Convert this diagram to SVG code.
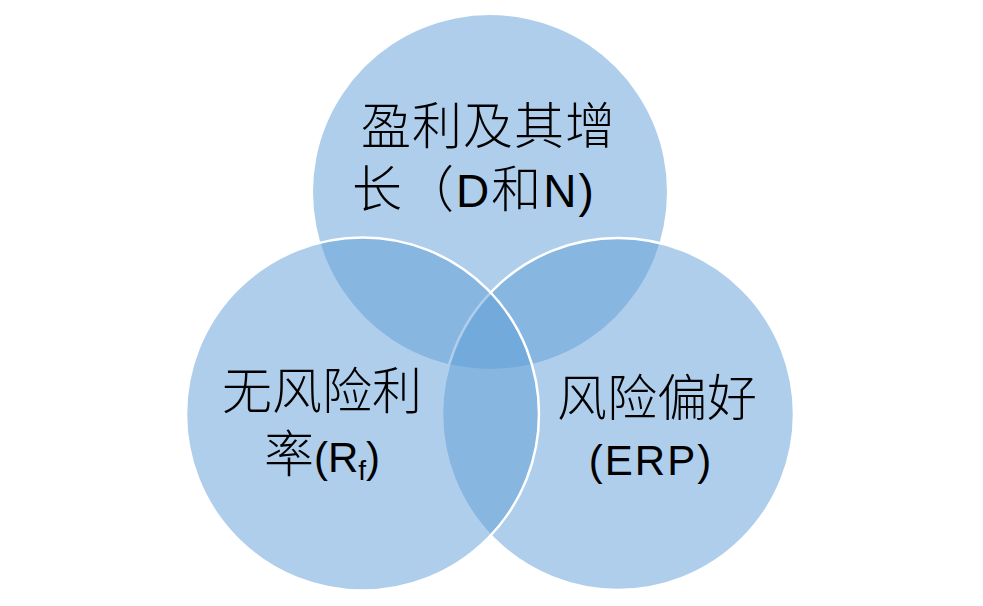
<svg xmlns="http://www.w3.org/2000/svg" width="983" height="606" viewBox="0 0 983 606">
<style>
.c{fill:#5F9ED7;fill-opacity:0.5}
.s{stroke:#FFFFFF;stroke-width:2.5}
text{font-family:"Liberation Sans","Noto Sans CJK SC",sans-serif;fill:#000000}
.cjk{font-size:50px;font-weight:300}
.lat{font-size:46px;font-weight:400}
.lat2{font-size:42px;font-weight:400}
.sub{font-size:28px;font-weight:400}
</style>
<rect width="983" height="606" fill="#FFFFFF"/>
<g id="node-top">
<circle class="c" cx="490" cy="192" r="177"/>
<text class="cjk" x="361" y="144" letter-spacing="1">盈利及其增</text>
<text class="cjk" x="352" y="207" letter-spacing="2">长（<tspan class="lat">D</tspan>和<tspan class="lat">N)</tspan></text>
</g>
<g id="node-right">
<circle class="c s" cx="618" cy="414" r="176"/>
<text class="cjk" x="557" y="416">风险偏好</text>
<text class="lat2" x="651" y="475" text-anchor="middle" letter-spacing="2">(ERP)</text>
</g>
<g id="node-left">
<circle class="c s" cx="362.5" cy="414" r="176.5"/>
<text class="cjk" x="222" y="409">无风险利</text>
<text class="cjk" x="264" y="472">率<tspan class="lat2">(R</tspan><tspan class="sub" dy="8">f</tspan><tspan class="lat2" dy="-8">)</tspan></text>
</g>
<g id="connectors"/>
</svg>
